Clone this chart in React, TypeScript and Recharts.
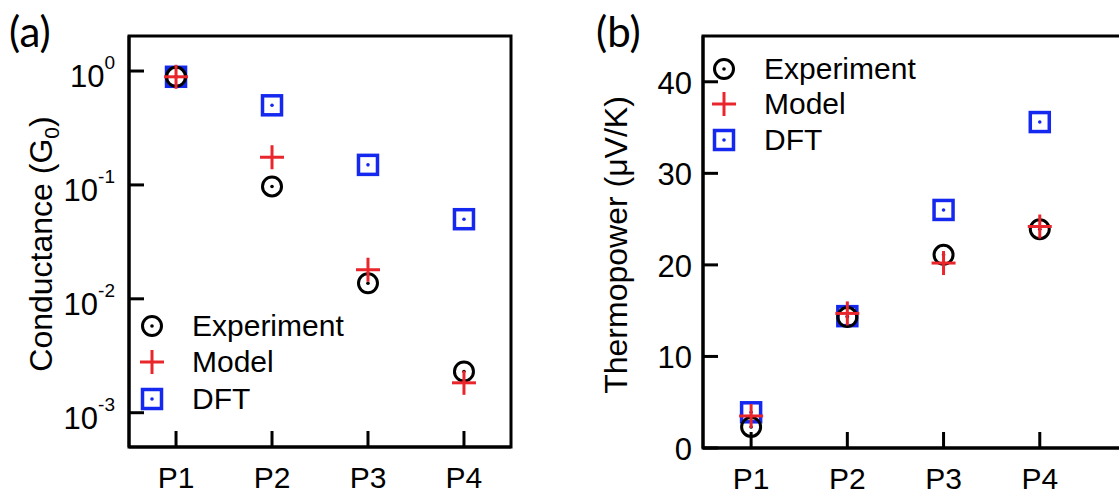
import React from "react";
import { Label, ReferenceArea, Scatter, ScatterChart, XAxis, YAxis } from "recharts";

const FONT = "'Liberation Sans', Arial, Helvetica, sans-serif";
const TAG_FONT = "Lato, 'Open Sans', sans-serif";

const BLACK = "#000000";
const RED = "#e8262b";
const BLUE = "#1428f0";

const categories = ["P1", "P2", "P3", "P4"];

// conductance, units of G0
const condExperiment = [0.89, 0.097, 0.0137, 0.0023];
const condModel = [0.89, 0.175, 0.018, 0.00183];
const condDft = [0.89, 0.5, 0.15, 0.05];

// thermopower, µV/K
const thermoExperiment = [2.3, 14.3, 21.1, 23.9];
const thermoModel = [3.5, 14.7, 20.2, 24.2];
const thermoDft = [3.9, 14.4, 26.0, 35.6];

const condTicks = [1e-3, 1e-2, 1e-1, 1];
const thermoTicks = [0, 10, 20, 30, 40];
const categoryTicks = [1, 2, 3, 4];

const condDomain: [number, number] = [5e-4, 2.03];
const condX: [number, number] = [0.51, 4.49];
const thermoDomain: [number, number] = [0, 45];
const thermoX: [number, number] = [0.5, 5.0];

const toRows = (values: number[]) => values.map((y, i) => ({ x: i + 1, y, name: categories[i] }));

// ---- markers ----
const CircleDot = ({ cx, cy }: any) => (
  <g>
    <circle cx={cx} cy={cy} r={9.5} fill="none" stroke={BLACK} strokeWidth={3} />
    <circle cx={cx} cy={cy} r={1.8} fill={BLACK} />
  </g>
);

const Plus = ({ cx, cy }: any) => (
  <g stroke={RED} strokeWidth={3}>
    <line x1={cx - 12} x2={cx + 12} y1={cy} y2={cy} />
    <line x1={cx} x2={cx} y1={cy - 12} y2={cy + 12} />
  </g>
);

const SquareDot = ({ cx, cy }: any) => (
  <g>
    <rect x={cx - 9.5} y={cy - 9.5} width={19} height={19} fill="none" stroke={BLUE} strokeWidth={3.5} />
    <circle cx={cx} cy={cy} r={1.8} fill={BLUE} />
  </g>
);

const series = [
  { name: "Experiment", Marker: CircleDot },
  { name: "Model", Marker: Plus },
  { name: "DFT", Marker: SquareDot },
];

// ---- ticks (drawn pointing into the plot) ----
const LogTick = ({ x, y, payload }: any) => {
  const exp = Math.round(Math.log10(payload.value));
  return (
    <g>
      <line x1={x} x2={x + 15} y1={y} y2={y} stroke={BLACK} strokeWidth={3} />
      <text x={x - 14} y={y + 16} textAnchor="end" fontSize={31} fontFamily={FONT} fill={BLACK}>
        10
        <tspan dy={-18} fontSize={19}>
          {exp}
        </tspan>
      </text>
    </g>
  );
};

const LinearTick = ({ x, y, payload }: any) => (
  <g>
    <line x1={x} x2={x + 15} y1={y} y2={y} stroke={BLACK} strokeWidth={3} />
    <text x={x - 11} y={y + 12} textAnchor="end" fontSize={31} fontFamily={FONT} fill={BLACK}>
      {payload.value}
    </text>
  </g>
);

const CategoryTick = ({ x, y, payload }: any) => (
  <g>
    <line x1={x} x2={x} y1={y} y2={y - 16} stroke={BLACK} strokeWidth={3} />
    <text x={x} y={y + 41} textAnchor="middle" fontSize={30} fontFamily={FONT} fill={BLACK}>
      {categories[payload.value - 1]}
    </text>
  </g>
);

const axisLine = { stroke: BLACK, strokeWidth: 3 };

const Legend = ({ left, top, rows }: { left: number; top: number; rows: number[] }) => (
  <svg style={{ position: "absolute", left, top, overflow: "visible" }} width={200} height={120}>
    {series.map(({ name, Marker }, i) => (
      <g key={name}>
        <Marker cx={0} cy={rows[i]} />
        <text x={40} y={rows[i] + 10} fontSize={30} fontFamily={FONT} fill={BLACK}>
          {name}
        </text>
      </g>
    ))}
  </svg>
);

const PanelTag = ({ left, text }: { left: number; text: string }) => (
  <svg style={{ position: "absolute", left, top: 0, overflow: "visible" }} width={70} height={60}>
    <text x={0} y={47} fontSize={42} fontFamily={TAG_FONT} fill={BLACK}>
      {text}
    </text>
  </svg>
);

function ConductancePanel() {
  return (
    <div style={{ position: "absolute", left: 0, top: 0 }}>
      <ScatterChart width={560} height={496} margin={{ top: 36, right: 49, bottom: 0, left: 0 }}>
        <XAxis
          dataKey="x"
          type="number"
          domain={condX}
          ticks={categoryTicks}
          height={49}
          tickSize={0}
          tickMargin={0}
          tickLine={false}
          axisLine={axisLine}
          tick={<CategoryTick />}
        />
        <YAxis
          dataKey="y"
          type="number"
          scale="log"
          domain={condDomain}
          allowDataOverflow
          ticks={condTicks}
          width={129}
          tickSize={0}
          tickMargin={0}
          tickLine={false}
          axisLine={axisLine}
          tick={<LogTick />}
        >
          <Label
            content={() => (
              <text transform="translate(52,244) rotate(-90)" textAnchor="middle" fontSize={32} fontFamily={FONT} fill={BLACK}>
                Conductance (G
                <tspan dy={7} fontSize={21}>
                  0
                </tspan>
                <tspan dy={-7}>)</tspan>
              </text>
            )}
          />
        </YAxis>
        {/* plot frame */}
        <ReferenceArea x1={condX[0]} x2={condX[1]} y1={condDomain[0]} y2={condDomain[1]} fill="none" stroke={BLACK} strokeWidth={3} ifOverflow="visible" />
        <Scatter name="DFT" data={toRows(condDft)} shape={<SquareDot />} isAnimationActive={false} />
        <Scatter name="Experiment" data={toRows(condExperiment)} shape={<CircleDot />} isAnimationActive={false} />
        <Scatter name="Model" data={toRows(condModel)} shape={<Plus />} isAnimationActive={false} />
      </ScatterChart>
      <Legend left={152} top={0} rows={[326, 362, 399]} />
      <PanelTag left={9} text="(a)" />
    </div>
  );
}

function ThermopowerPanel() {
  return (
    <div style={{ position: "absolute", left: 560, top: 0 }}>
      <ScatterChart width={600} height={496} margin={{ top: 36, right: 24, bottom: 0, left: 0 }}>
        <XAxis
          dataKey="x"
          type="number"
          domain={thermoX}
          ticks={categoryTicks}
          height={48}
          tickSize={0}
          tickMargin={0}
          tickLine={false}
          axisLine={axisLine}
          tick={<CategoryTick />}
        />
        <YAxis
          dataKey="y"
          type="number"
          domain={thermoDomain}
          allowDataOverflow
          ticks={thermoTicks}
          width={143}
          tickSize={0}
          tickMargin={0}
          tickLine={false}
          axisLine={axisLine}
          tick={<LinearTick />}
        >
          <Label
            content={() => (
              <text transform="translate(67,245) rotate(-90)" textAnchor="middle" fontSize={32} fontFamily={FONT} fill={BLACK}>
                Thermopower (μV/K)
              </text>
            )}
          />
        </YAxis>
        {/* plot frame */}
        <ReferenceArea x1={thermoX[0]} x2={thermoX[1]} y1={thermoDomain[0]} y2={thermoDomain[1]} fill="none" stroke={BLACK} strokeWidth={3} ifOverflow="visible" />
        <Scatter name="DFT" data={toRows(thermoDft)} shape={<SquareDot />} isAnimationActive={false} />
        <Scatter name="Experiment" data={toRows(thermoExperiment)} shape={<CircleDot />} isAnimationActive={false} />
        <Scatter name="Model" data={toRows(thermoModel)} shape={<Plus />} isAnimationActive={false} />
      </ScatterChart>
      <Legend left={164} top={0} rows={[69, 104, 140]} />
      <PanelTag left={36} text="(b)" />
    </div>
  );
}

export default function App() {
  return (
    <div
      style={{
        position: "fixed",
        left: 0,
        top: 0,
        width: 1119,
        height: 496,
        overflow: "hidden",
        background: "#ffffff",
      }}
    >
      <ConductancePanel />
      <ThermopowerPanel />
    </div>
  );
}
